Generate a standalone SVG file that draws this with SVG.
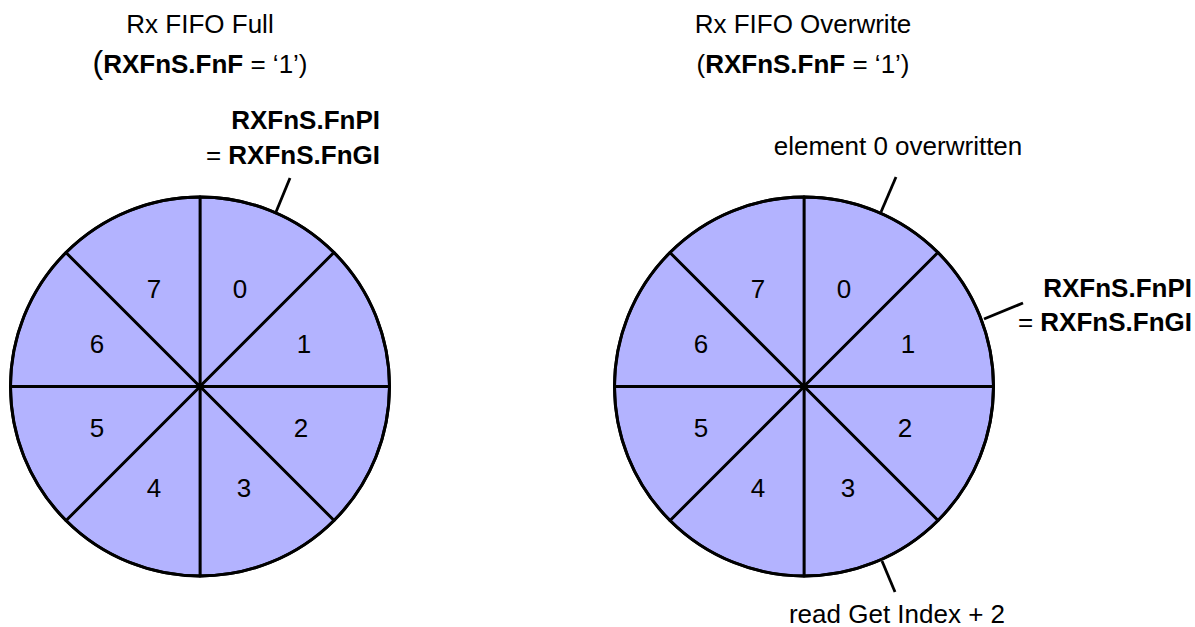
<svg xmlns="http://www.w3.org/2000/svg" width="1195" height="627" viewBox="0 0 1195 627">
<style>
text{font-family:"Liberation Sans",Arial,sans-serif;font-size:26px;fill:#000}
.b{font-weight:bold}
.m{text-anchor:middle}
.e{text-anchor:end}
.w{fill:#b3b3ff;stroke:#000;stroke-width:2.8;stroke-linejoin:round}
.rim{fill:none;stroke:#000;stroke-width:3}
.ld{stroke:#000;stroke-width:2.8;fill:none}
</style>
<rect width="1195" height="627" fill="#fff"/>

<g id="title-full">
<text class="m" x="200" y="33">Rx FIFO Full</text>
<text class="m" x="200" y="73"><tspan font-size="32">(</tspan><tspan class="b">RXFnS.FnF</tspan> = ‘1’)</text>
</g>
<g id="title-overwrite">
<text class="m" x="803" y="33">Rx FIFO Overwrite</text>
<text class="m" x="803" y="73">(<tspan class="b">RXFnS.FnF</tspan> = ‘1’)</text>
</g>

<g id="fifo-full">
<g id="full-0"><path class="w" d="M200 386.5 L200 197 A189.5 189.5 0 0 1 334 252.5 Z"/><text class="m" x="240" y="298">0</text></g>
<g id="full-1"><path class="w" d="M200 386.5 L334 252.5 A189.5 189.5 0 0 1 389.5 386.5 Z"/><text class="m" x="304" y="353">1</text></g>
<g id="full-2"><path class="w" d="M200 386.5 L389.5 386.5 A189.5 189.5 0 0 1 334 520.5 Z"/><text class="m" x="301" y="437">2</text></g>
<g id="full-3"><path class="w" d="M200 386.5 L334 520.5 A189.5 189.5 0 0 1 200 576 Z"/><text class="m" x="244" y="497">3</text></g>
<g id="full-4"><path class="w" d="M200 386.5 L200 576 A189.5 189.5 0 0 1 66 520.5 Z"/><text class="m" x="154" y="497">4</text></g>
<g id="full-5"><path class="w" d="M200 386.5 L66 520.5 A189.5 189.5 0 0 1 10.5 386.5 Z"/><text class="m" x="97" y="437">5</text></g>
<g id="full-6"><path class="w" d="M200 386.5 L10.5 386.5 A189.5 189.5 0 0 1 66 252.5 Z"/><text class="m" x="97" y="353">6</text></g>
<g id="full-7"><path class="w" d="M200 386.5 L66 252.5 A189.5 189.5 0 0 1 200 197 Z"/><text class="m" x="154" y="298">7</text></g>
<circle class="rim" cx="200" cy="386.5" r="189.5"/>
</g>

<g id="fifo-overwrite">
<g id="ow-0"><path class="w" d="M804 386.5 L804 197 A189.5 189.5 0 0 1 938 252.5 Z"/><text class="m" x="844" y="298">0</text></g>
<g id="ow-1"><path class="w" d="M804 386.5 L938 252.5 A189.5 189.5 0 0 1 993.5 386.5 Z"/><text class="m" x="908" y="353">1</text></g>
<g id="ow-2"><path class="w" d="M804 386.5 L993.5 386.5 A189.5 189.5 0 0 1 938 520.5 Z"/><text class="m" x="905" y="437">2</text></g>
<g id="ow-3"><path class="w" d="M804 386.5 L938 520.5 A189.5 189.5 0 0 1 804 576 Z"/><text class="m" x="848" y="497">3</text></g>
<g id="ow-4"><path class="w" d="M804 386.5 L804 576 A189.5 189.5 0 0 1 670 520.5 Z"/><text class="m" x="758" y="497">4</text></g>
<g id="ow-5"><path class="w" d="M804 386.5 L670 520.5 A189.5 189.5 0 0 1 614.5 386.5 Z"/><text class="m" x="701" y="437">5</text></g>
<g id="ow-6"><path class="w" d="M804 386.5 L614.5 386.5 A189.5 189.5 0 0 1 670 252.5 Z"/><text class="m" x="701" y="353">6</text></g>
<g id="ow-7"><path class="w" d="M804 386.5 L670 252.5 A189.5 189.5 0 0 1 804 197 Z"/><text class="m" x="758" y="298">7</text></g>
<circle class="rim" cx="804" cy="386.5" r="189.5"/>
</g>

<g id="label-full-pi">
<text class="e b" x="380" y="129">RXFnS.FnPI</text>
<text class="e" x="380" y="164">= <tspan class="b">RXFnS.FnGI</tspan></text>
</g>
<g id="label-overwritten">
<text class="m" x="898" y="155">element 0 overwritten</text>
</g>
<g id="label-ow-pi">
<text class="e b" x="1192" y="297">RXFnS.FnPI</text>
<text class="e" x="1192" y="331">= <tspan class="b">RXFnS.FnGI</tspan></text>
</g>
<g id="label-read">
<text class="m" x="897" y="623">read Get Index + 2</text>
</g>

<g id="connectors">
<line class="ld" x1="290" y1="178" x2="276" y2="212"/>
<line class="ld" x1="896" y1="177" x2="881" y2="212"/>
<line class="ld" x1="1023" y1="303" x2="984" y2="319"/>
<line class="ld" x1="882" y1="561" x2="895" y2="592"/>
</g>
</svg>
